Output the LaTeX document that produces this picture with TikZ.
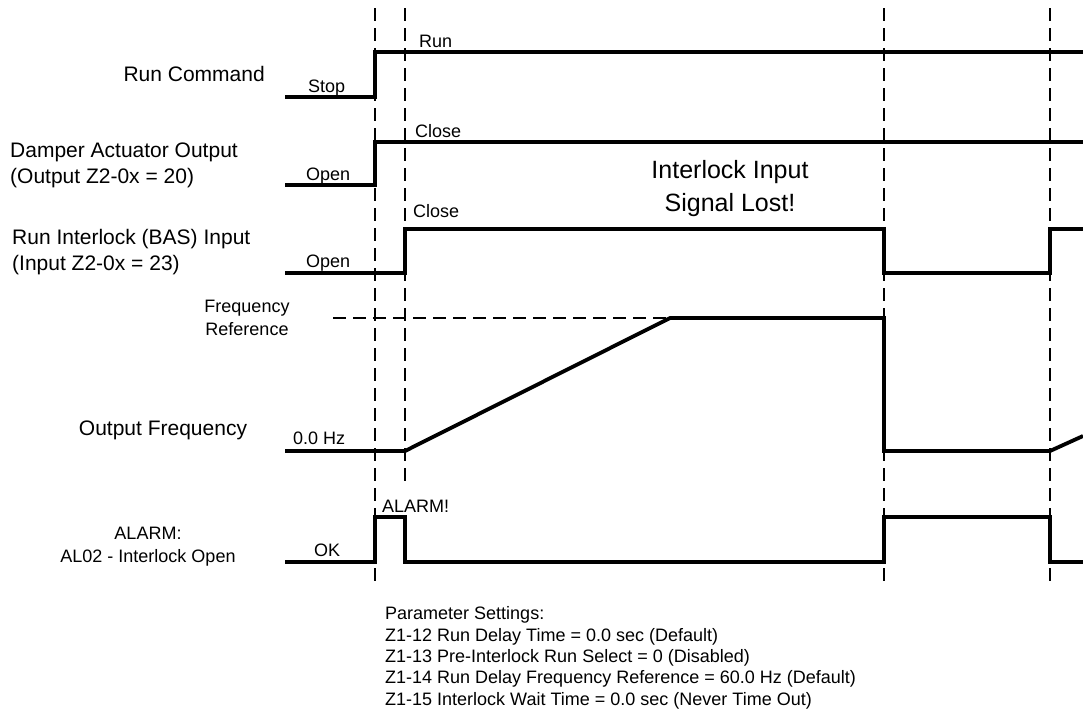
\documentclass[tikz,border=0pt]{standalone}
\usepackage{fontspec}
\setmainfont{Liberation Sans}
\usetikzlibrary{positioning}

\begin{document}
\begin{tikzpicture}[x=1pt, y=-1pt,
  sig/.style={line width=3.8pt, line join=miter},
  grid/.style={line width=1.3pt, dash pattern=on 13pt off 7pt},
  lbl/.style={inner sep=0pt, font=\fontsize{21}{26}\selectfont},
  sml/.style={inner sep=0pt, font=\fontsize{18}{23}\selectfont},
  big/.style={inner sep=0pt, font=\fontsize{25}{33}\selectfont},
]
\useasboundingbox (0,0) rectangle (1083,715);
% time marks
\foreach \x/\y in {375/585, 405/486, 884/585, 1050/585}
  \draw[grid] (\x,8) -- (\x,\y);
% signal names (base = last line)
\node[lbl, anchor=base east] (runcmd) at (265,81) {Run Command};
\node[lbl, anchor=base west, align=left] (damper) at (10,183) {Damper Actuator Output\\(Output Z2-0x = 20)};
\node[lbl, anchor=base west, align=left] (interlock) at (12,270) {Run Interlock (BAS) Input\\(Input Z2-0x = 23)};
\node[sml, anchor=base, align=center] (freqref) at (247,335) {Frequency\\Reference};
\node[lbl, anchor=base] (outfreq) at (163,435) {Output Frequency};
\node[sml, anchor=base, align=center] (alarm) at (148,562) {ALARM:\\AL02 - Interlock Open};
% signals
\draw[sig] (285,97) -- (375,97) -- (375,52) -- (1083,52);
\draw[sig] (285,185) -- (375,185) -- (375,142) -- (1083,142);
\draw[sig] (285,273) -- (405,273) -- (405,229) -- (884,229) -- (884,273) -- (1050,273) -- (1050,229) -- (1083,229);
\draw[grid] (333,318) -- (670,318);
\draw[sig] (285,451) -- (405,451) -- (670,318) -- (884,318) -- (884,451) -- (1050,451) -- (1083,436);
\draw[sig] (285,562) -- (375,562) -- (375,517) -- (405,517) -- (405,562) -- (884,562) -- (884,517) -- (1050,517) -- (1050,562) -- (1083,562);
% levels
\node[sml, anchor=base west] (stop) at (308,92) {Stop};
\node[sml, anchor=base west] (run) at (419,47) {Run};
\node[sml, anchor=base west] (dopen) at (306,180) {Open};
\node[sml, anchor=base west] (dclose) at (415,137) {Close};
\node[sml, anchor=base west] (iopen) at (306,267) {Open};
\node[sml, anchor=base west] (iclose) at (413,217) {Close};
\node[sml, anchor=base west] (zero) at (293,444) {0.0 Hz};
\node[sml, anchor=base west] (alarmon) at (382,512) {ALARM!};
\node[sml, anchor=base west] (ok) at (314,556) {OK};
\node[big, anchor=base, align=center] (lost) at (730,211) {Interlock Input\\Signal Lost!};
% settings
\node[sml, anchor=base west, align=left, font=\fontsize{18}{21.3}\selectfont] (params) at (385,705)
  {Parameter Settings:\\
   Z1-12 Run Delay Time = 0.0 sec (Default)\\
   Z1-13 Pre-Interlock Run Select = 0 (Disabled)\\
   Z1-14 Run Delay Frequency Reference = 60.0 Hz (Default)\\
   Z1-15 Interlock Wait Time = 0.0 sec (Never Time Out)};
\end{tikzpicture}
\end{document}
